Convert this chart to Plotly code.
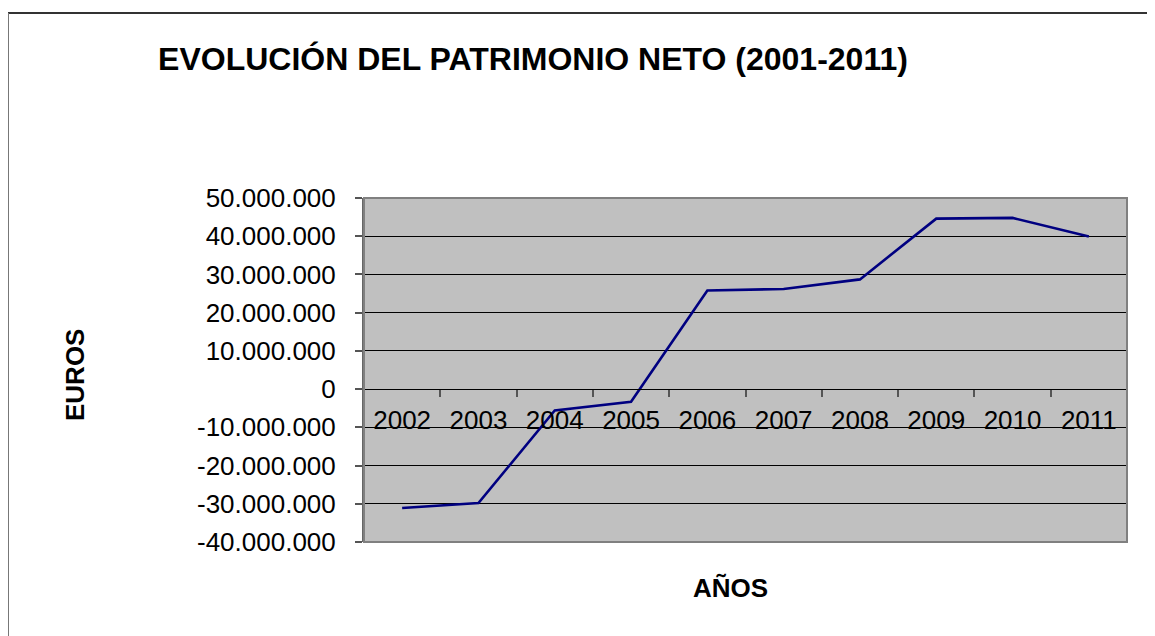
import plotly.graph_objects as go

years = ["2002", "2003", "2004", "2005", "2006", "2007", "2008", "2009", "2010", "2011"]
patrimonio_neto = [-31100000, -29800000, -5600000, -3300000, 25800000, 26200000,
                   28700000, 44600000, 44800000, 39900000]
y_tick_values = [-40000000, -30000000, -20000000, -10000000, 0, 10000000,
                 20000000, 30000000, 40000000, 50000000]
y_tick_labels = ["-40.000.000", "-30.000.000", "-20.000.000", "-10.000.000", "0",
                 "10.000.000", "20.000.000", "30.000.000", "40.000.000", "50.000.000"]
title_text = "EVOLUCIÓN DEL PATRIMONIO NETO (2001-2011)"
y_title = "EUROS"
x_title = "AÑOS"

# page body has an 8px default margin; positions below are in screen pixels
OFF = 8
W, H = 1155, 636
L, T = 364 - OFF, 198 - OFF
R = W - (1127 - OFF)
B = H - (542 - OFF)
pw, ph = W - L - R, H - T - B
ymin, ymax = y_tick_values[0], y_tick_values[-1]

def px_x(p):
    return (p - OFF - L) / pw

def px_y(p):
    return (H - B - (p - OFF)) / ph

FONT = "Liberation Sans, Arial, sans-serif"

fig = go.Figure()
fig.add_trace(go.Scatter(
    x=years, y=patrimonio_neto, mode="lines",
    line=dict(color="#000080", width=2.6), hoverinfo="x+y", showlegend=False,
))

fig.update_layout(
    width=W, height=H,
    margin=dict(l=L, r=R, t=T, b=B, autoexpand=False),
    paper_bgcolor="white", plot_bgcolor="#C0C0C0",
    font=dict(family=FONT, color="black", size=26),
    title=dict(text="<b>" + title_text + "</b>", font=dict(size=32, family=FONT, color="black"),
               xref="container", yref="container", x=(533 - OFF) / W, y=1 - (59 - OFF) / H,
               xanchor="center", yanchor="middle"),
    xaxis=dict(
        type="category", range=[-0.5, len(years) - 0.5],
        anchor="free", position=(0 - ymin) / (ymax - ymin),
        showgrid=False, zeroline=False,
        showline=True, linecolor="black", linewidth=1,
        ticks="outside", ticklen=7, tickwidth=1.5, tickcolor="#555555",
        tickson="boundaries",
        tickfont=dict(size=26, family=FONT, color="black"),
        ticklabelstandoff=8,
        fixedrange=True,
    ),
    yaxis=dict(
        range=[ymin, ymax], tickvals=y_tick_values, ticktext=y_tick_labels,
        showgrid=True, gridcolor="black", gridwidth=1, zeroline=False,
        showline=True, linecolor="#666666", linewidth=2,
        ticks="outside", ticklen=7, tickwidth=1.5, tickcolor="#555555",
        tickfont=dict(size=26, family=FONT, color="black"),
        ticklabelstandoff=14,
        fixedrange=True,
    ),
    shapes=[
        dict(type="rect", xref="x domain", yref="y domain", x0=0, x1=1, y0=0, y1=1,
             line=dict(color="#808080", width=2), layer="above"),
        dict(type="line", xref="paper", yref="paper", x0=px_x(8), x1=px_x(W + 20),
             y0=px_y(13), y1=px_y(13), line=dict(color="#333333", width=2)),
        dict(type="line", xref="paper", yref="paper", x0=px_x(8), x1=px_x(8),
             y0=px_y(13), y1=px_y(H + 20), line=dict(color="#777777", width=2)),
    ],
    annotations=[
        dict(text="<b>" + y_title + "</b>", xref="paper", yref="paper",
             x=px_x(75), y=px_y(375), textangle=-90, showarrow=False,
             xanchor="center", yanchor="middle", font=dict(size=26, family=FONT, color="black")),
        dict(text="<b>" + x_title + "</b>", xref="paper", yref="paper",
             x=px_x(730), y=px_y(588), showarrow=False,
             xanchor="center", yanchor="middle", font=dict(size=26, family=FONT, color="black")),
    ],
)

fig.write_html("out.html")
